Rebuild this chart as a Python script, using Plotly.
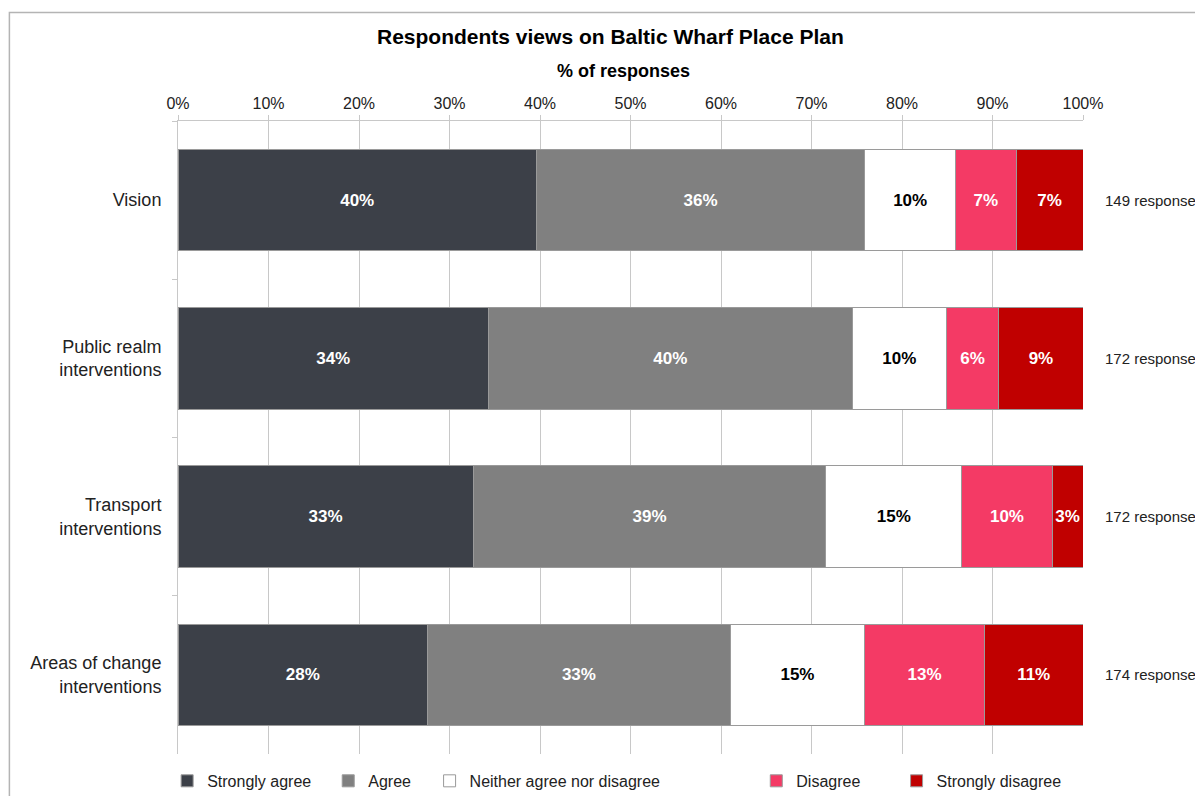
import plotly.graph_objects as go

categories = [
    "Vision",
    "Public realm<br>interventions",
    "Transport<br>interventions",
    "Areas of change<br>interventions",
]
response_counts = ["149 responses", "172 responses", "172 responses", "174 responses"]

strongly_agree = [39.6, 34.3, 32.6, 27.6]
agree = [36.3, 40.2, 39.0, 33.4]
neither = [10.0, 10.4, 15.0, 14.9]
disagree = [6.7, 5.8, 10.0, 13.2]
strongly_disagree = [7.4, 9.3, 3.4, 10.9]

x_ticks = [0, 10, 20, 30, 40, 50, 60, 70, 80, 90, 100]
x_tick_labels = [f"{t}%" for t in x_ticks]

FONT = "Arial, Liberation Sans, sans-serif"

# name, values, fill, label colour, legend slot x (paper)
series = [
    ("Strongly agree", strongly_agree, "#3C4048", "white", -0.012),
    ("Agree", agree, "#808080", "white", 0.166),
    ("Neither agree nor disagree", neither, "#FFFFFF", "black", 0.278),
    ("Disagree", disagree, "#F43A65", "white", 0.639),
    ("Strongly disagree", strongly_disagree, "#C00000", "white", 0.794),
]

fig = go.Figure()
legend_layout = {}
for i, (name, values, color, text_color, lx) in enumerate(series):
    legend_id = "legend" if i == 0 else f"legend{i + 1}"
    fig.add_trace(
        go.Bar(
            y=categories,
            x=values,
            name=name,
            orientation="h",
            legend=legend_id,
            marker=dict(color=color, line=dict(color="#9A9A9A", width=1)),
            texttemplate="%{x:.0f}%",
            textposition="inside",
            insidetextanchor="middle",
            textangle=0,
            constraintext="none",
            textfont=dict(family=FONT, size=17, color=text_color, weight="bold"),
            hovertemplate="%{y}: %{x:.1f}%<extra>" + name + "</extra>",
        )
    )
    legend_layout[legend_id] = dict(
        orientation="h", x=lx, xanchor="left",
        y=0.029, yref="container", yanchor="middle",
        font=dict(family=FONT, size=16, color="#222222"),
        bgcolor="rgba(0,0,0,0)",
    )

for cat, label in zip(categories, response_counts):
    fig.add_annotation(
        x=1.022, xref="paper", y=cat, yref="y",
        text=label, showarrow=False, xanchor="left",
        font=dict(family=FONT, size=15, color="#222222"),
    )

fig.add_annotation(
    x=0.478, xref="paper", y=1.1335, yref="paper",
    text="<b>Respondents views on Baltic Wharf Place Plan</b>",
    showarrow=False, xanchor="center", yanchor="middle",
    font=dict(family=FONT, size=21, color="black"),
)
fig.add_annotation(
    x=0.492, xref="paper", y=1.0, yref="paper", yshift=50,
    text="<b>% of responses</b>",
    showarrow=False, xanchor="center", yanchor="middle",
    font=dict(family=FONT, size=18, color="black"),
)

# outer chart frame
fig.add_shape(
    type="rect", xref="paper", yref="paper",
    x0=-0.1863, x1=1.25, y0=-0.15, y1=1.1715,
    line=dict(color="#B4B4B4", width=1.5), fillcolor="rgba(0,0,0,0)",
    layer="below",
)

fig.update_layout(
    barmode="stack",
    bargap=0.36,
    width=1203,
    height=796,
    margin=dict(l=170, r=128, t=113, b=50, autoexpand=False),
    paper_bgcolor="white",
    plot_bgcolor="white",
    font=dict(family=FONT, size=16, color="#222222"),
    showlegend=True,
    **legend_layout,
)
fig.update_xaxes(
    side="top",
    range=[0, 100],
    tickvals=x_ticks,
    ticktext=x_tick_labels,
    showgrid=True,
    gridcolor="#C8C8C8",
    gridwidth=1,
    showline=True,
    linecolor="#C8C8C8",
    ticks="outside",
    ticklen=5,
    tickcolor="#C8C8C8",
    tickfont=dict(family=FONT, size=16, color="#222222"),
    zeroline=False,
    fixedrange=True,
)
fig.update_yaxes(
    autorange="reversed",
    showline=True,
    linecolor="#C8C8C8",
    ticks="outside",
    tickson="boundaries",
    ticklen=5,
    tickcolor="#C8C8C8",
    ticklabelstandoff=12,
    tickfont=dict(family=FONT, size=18, color="#222222"),
    fixedrange=True,
)

fig.write_html("out.html")
